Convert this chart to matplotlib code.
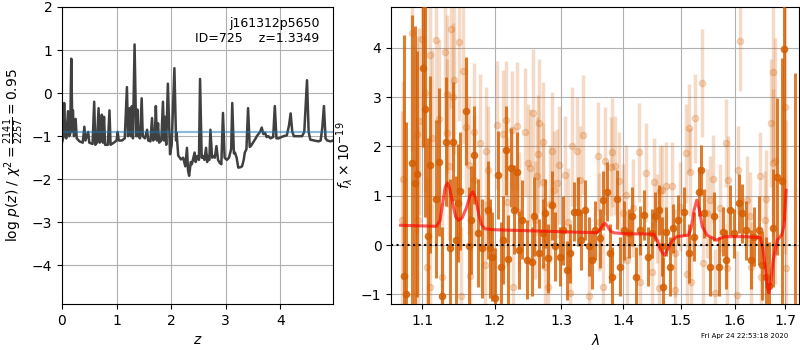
import matplotlib
matplotlib.use('Agg')
import matplotlib.pyplot as plt
from matplotlib.ticker import NullLocator

# p(z) curve (left panel)
z_grid = [0.00, 0.02, 0.04, 0.06, 0.08, 0.11, 0.13, 0.15, 0.17, 0.19,
          0.20, 0.22, 0.25, 0.27, 0.32, 0.38, 0.41, 0.43, 0.48, 0.50,
          0.56, 0.59, 0.61, 0.64, 0.67, 0.69, 0.71, 0.73, 0.75, 0.77,
          0.79, 0.84, 0.87, 0.89, 0.95, 1.00, 1.02, 1.04, 1.10, 1.15,
          1.19, 1.21, 1.24, 1.26, 1.28, 1.30, 1.33, 1.36, 1.38, 1.40,
          1.43, 1.46, 1.48, 1.52, 1.56, 1.58, 1.62, 1.65, 1.67, 1.70,
          1.72, 1.74, 1.76, 1.78, 1.82, 1.85, 1.87, 1.89, 1.91, 1.94,
          1.97, 1.98, 2.01, 2.06, 2.09, 2.10, 2.13, 2.18, 2.22, 2.26,
          2.29, 2.31, 2.33, 2.36, 2.38, 2.43, 2.45, 2.48, 2.51, 2.53,
          2.56, 2.58, 2.61, 2.64, 2.66, 2.67, 2.70, 2.72, 2.75, 2.77,
          2.80, 2.83, 2.86, 2.89, 2.92, 2.95, 2.98, 3.02, 3.06, 3.10,
          3.12, 3.15, 3.17, 3.20, 3.23, 3.27, 3.30, 3.33, 3.35, 3.38,
          3.41, 3.44, 3.46, 3.50, 3.55, 3.57, 3.60, 3.63, 3.66, 3.69,
          3.72, 3.75, 3.78, 3.82, 3.87, 3.90, 3.93, 3.97, 4.02, 4.06,
          4.12, 4.16, 4.19, 4.22, 4.25, 4.32, 4.40, 4.44, 4.49, 4.52,
          4.55, 4.62, 4.70, 4.74, 4.77, 4.80, 4.83, 4.86, 4.92, 4.97]
log_pz = [-1.15, -1.05, -0.23, -1.00, -1.05, -0.42, -1.00, -0.95, 0.80, -0.90,
          -0.40, -1.00, -0.60, -1.05, -1.12, -1.15, -0.78, -1.10, -0.90, -1.15,
          -1.18, -0.20, -1.20, -1.15, -0.35, -1.15, -1.10, -0.50, -1.15, -0.55,
          -1.20, -1.20, -0.40, -1.20, -1.15, -1.10, -0.90, -1.10, -1.10, -1.05,
          0.14, -1.00, -0.35, -1.00, -0.30, -1.05, 1.13, -1.00, -0.38, -1.00,
          -1.05, -0.12, -1.00, -1.05, -0.85, -1.10, -1.12, -0.58, -1.10, -1.05,
          -0.30, -1.10, -0.70, -1.15, -1.10, -0.20, -1.10, -0.55, -1.20, 0.22,
          -1.00, -1.42, -1.20, 0.58, -1.10, -0.92, -1.45, -1.54, -1.50, -1.70,
          -1.27, -1.80, -1.92, -1.60, -1.65, -1.38, -1.60, -1.46, -1.55, 0.33,
          -1.50, -1.46, -1.55, -1.27, -1.60, -1.46, -1.55, -0.85, -1.50, -1.46,
          -1.50, -1.23, -1.55, -1.62, -1.65, -0.46, -1.50, -1.55, -1.50, -1.30,
          -0.23, -1.40, -1.38, -1.50, -1.73, -1.72, -1.70, -1.55, -1.38, -1.30,
          -0.35, -1.25, -1.23, -1.15, -1.05, -1.00, -0.95, -0.90, -0.80, -0.95,
          -0.92, -1.02, -1.00, -1.05, -1.02, -0.30, -1.05, -1.05, -1.02, -1.00,
          -0.98, -0.75, -0.47, -0.90, -1.00, -1.00, -1.00, -0.90, 0.30, -0.90,
          -1.08, -1.10, -1.12, -1.10, -0.80, -0.30, -1.05, -1.10, -1.12, -1.10]
pz_level = -0.9

# spectrum, first set (dark points)
dark_lam = [1.0765, 1.0790, 1.0873, 1.0908, 1.0935, 1.1010, 1.1036, 1.1074, 1.111, 1.119,
            1.122, 1.126, 1.132, 1.137, 1.141, 1.145, 1.148, 1.151, 1.160, 1.163,
            1.166, 1.171, 1.176, 1.182, 1.190, 1.193, 1.196, 1.201, 1.205, 1.209,
            1.212, 1.216, 1.219, 1.224, 1.228, 1.232, 1.236, 1.240, 1.247, 1.255,
            1.258, 1.266, 1.271, 1.275, 1.279, 1.286, 1.290, 1.298, 1.303, 1.309,
            1.314, 1.320, 1.326, 1.331, 1.337, 1.343, 1.348, 1.354, 1.361, 1.366,
            1.373, 1.378, 1.382, 1.390, 1.395, 1.402, 1.409, 1.415, 1.422, 1.429,
            1.435, 1.442, 1.449, 1.455, 1.461, 1.466, 1.469, 1.474, 1.481, 1.487,
            1.496, 1.506, 1.515, 1.524, 1.533, 1.537, 1.543, 1.554, 1.562, 1.571,
            1.578, 1.584, 1.592, 1.599, 1.609, 1.615, 1.623, 1.631, 1.638, 1.648,
            1.654, 1.661, 1.668, 1.676, 1.683, 1.694, 1.697, 1.720]
dark_flux = [-0.63, -1.00, 1.66, 1.25, 1.44, 3.59, 2.76, 0.18, 1.63, 0.93,
             1.68, -1.04, 2.10, -0.07, 2.10, 0.10, 0.86, 1.10, 2.72, -0.03,
             0.51, 1.83, 0.24, -0.07, 0.71, -0.07, -0.24, -1.07, 1.42, -0.44,
             0.10, 1.92, -0.29, 1.57, 0.72, 1.49, -0.10, 0.51, -0.30, -0.34,
             0.58, -0.17, 0.24, 0.64, -0.27, 0.81, -0.03, -0.24, 0.30, -0.51,
             -0.17, 0.68, 0.68, 0.10, 0.71, -0.03, -0.30, 0.30, 0.14, 0.91,
             1.08, -0.17, -0.64, 0.93, -0.44, 0.30, 0.24, 0.58, -0.64, 0.30,
             0.61, -0.24, 0.24, 0.58, 0.71, -0.03, -0.85, 0.27, -0.44, 0.34,
             0.51, 0.68, -0.17, 0.17, 1.08, 1.52, 0.64, -0.44, 0.58, -0.44,
             0.27, -0.30, 0.71, 0.24, 0.85, 0.64, 0.30, -0.30, 0.17, 0.30,
             -0.41, -0.64, -0.83, 0.34, 1.39, 1.29, 3.98, -1.50]
dark_err = [4.9, 3.5, 3.0, 3.2, 2.5, 1.6, 2.2, 2.0, 1.8, 1.6,
            1.5, 1.4, 1.3, 1.4, 1.2, 1.3, 1.2, 1.2, 1.1, 1.2,
            1.1, 1.0, 1.1, 1.0, 1.0, 1.0, 0.9, 1.0, 0.9, 0.9,
            0.9, 0.9, 0.9, 0.8, 0.9, 0.8, 0.8, 0.8, 0.8, 0.7,
            0.8, 0.7, 0.7, 0.7, 0.7, 0.7, 0.7, 0.6, 0.7, 0.6,
            0.6, 0.6, 0.7, 0.6, 0.6, 0.6, 0.6, 0.6, 0.6, 0.6,
            0.6, 0.6, 0.6, 0.6, 0.6, 0.6, 0.5, 0.6, 0.6, 0.5,
            0.5, 0.6, 0.5, 0.5, 0.5, 0.6, 0.6, 0.5, 0.6, 0.5,
            0.5, 0.5, 0.6, 0.5, 0.5, 0.5, 0.5, 0.6, 0.5, 0.6,
            0.5, 0.6, 0.5, 0.5, 0.6, 0.6, 0.6, 0.6, 0.6, 0.7,
            0.7, 0.8, 0.9, 1.2, 1.6, 2.5, 3.5, 5.0]

# spectrum, second set (faint points)
light_lam = [1.074, 1.0756, 1.0865, 1.0938, 1.0951, 1.096, 1.1003, 1.1039, 1.107, 1.110,
             1.1106, 1.1129, 1.119, 1.122, 1.127, 1.131, 1.133, 1.134, 1.136, 1.139,
             1.141, 1.143, 1.150, 1.153, 1.156, 1.160, 1.164, 1.165, 1.170, 1.171,
             1.179, 1.186, 1.187, 1.191, 1.203, 1.212, 1.216, 1.218, 1.225, 1.227,
             1.233, 1.236, 1.245, 1.249, 1.252, 1.257, 1.260, 1.262, 1.264, 1.266,
             1.271, 1.272, 1.275, 1.280, 1.282, 1.285, 1.289, 1.293, 1.296, 1.305,
             1.311, 1.314, 1.317, 1.325, 1.330, 1.334, 1.343, 1.359, 1.360, 1.366,
             1.370, 1.379, 1.381, 1.386, 1.393, 1.400, 1.404, 1.407, 1.417, 1.426,
             1.429, 1.439, 1.449, 1.452, 1.458, 1.461, 1.464, 1.466, 1.474, 1.484,
             1.489, 1.490, 1.499, 1.510, 1.512, 1.515, 1.517, 1.519, 1.526, 1.538,
             1.540, 1.548, 1.553, 1.560, 1.563, 1.573, 1.583, 1.585, 1.588, 1.604,
             1.607, 1.611, 1.624, 1.629, 1.632, 1.649, 1.652, 1.659, 1.661, 1.672,
             1.675, 1.676, 1.680, 1.700, 1.702]
light_flux = [0.51, 1.33, 4.30, 2.25, 0.51, 2.51, 4.18, 3.08, -0.44, 3.86,
              -0.86, 2.17, 4.17, 2.56, -0.64, 3.92, 3.06, 2.27, 1.61, 4.38,
              3.01, 3.35, 4.12, -1.04, 3.54, 2.39, 1.63, -0.63, 2.29, 1.32,
              2.08, -0.41, 1.90, 1.52, 2.43, 2.25, 2.54, 0.88, 2.34, -0.85,
              2.41, 0.68, 2.30, 1.66, 1.56, 2.68, 0.51, 1.40, 1.84, 2.47,
              1.27, 2.10, -0.44, -0.86, 0.83, 1.90, 1.12, 1.25, 1.63, 1.42,
              0.47, -0.98, 2.00, 1.90, 1.32, 2.24, -1.04, 1.80, 0.47, -0.85,
              1.71, 1.59, 1.88, 1.61, 1.29, 0.64, 1.02, -0.30, 0.75, 1.88,
              -0.75, 1.47, -0.54, 1.27, 0.54, -0.88, 1.10, 1.12, 1.19, 1.19,
              -0.16, -0.91, 0.78, 1.86, -0.59, 2.37, 1.48, -0.75, 2.57, 3.29,
              -0.37, 0.64, 0.91, 1.34, -0.98, 0.75, 2.07, -0.47, 1.32, -1.02,
              1.52, 4.13, 0.91, 0.58, -0.44, 1.40, -0.64, 0.51, 0.93, 2.47,
              1.67, 3.51, 1.71, 2.81, -0.46]
light_err = [2.2, 2.0, 2.4, 2.0, 1.9, 1.9, 2.2, 2.0, 1.8, 1.9,
             1.7, 1.8, 1.7, 1.6, 1.5, 1.7, 1.6, 1.5, 1.5, 1.6,
             1.5, 1.5, 1.6, 1.4, 1.5, 1.4, 1.4, 1.4, 1.4, 1.3,
             1.4, 1.3, 1.3, 1.3, 1.3, 1.3, 1.2, 1.3, 1.2, 1.2,
             1.3, 1.2, 1.3, 1.2, 1.2, 1.3, 1.2, 1.2, 1.2, 1.3,
             1.2, 1.2, 1.2, 1.1, 1.2, 1.2, 1.2, 1.1, 1.2, 1.2,
             1.1, 1.1, 1.2, 1.1, 1.1, 1.2, 1.1, 1.1, 1.0, 1.1,
             1.1, 1.0, 1.1, 1.0, 1.0, 1.0, 1.0, 1.0, 1.0, 1.0,
             1.0, 1.0, 1.0, 0.9, 0.9, 1.0, 0.9, 0.9, 0.9, 0.9,
             0.9, 0.9, 0.9, 1.0, 0.9, 0.9, 0.9, 0.9, 0.9, 1.1,
             0.9, 0.9, 0.9, 0.9, 0.9, 0.9, 0.9, 0.9, 0.9, 0.9,
             0.9, 1.0, 0.9, 0.9, 0.9, 0.9, 0.9, 1.0, 1.0, 1.3,
             1.5, 1.8, 2.5, 3.0, 3.0]

# best-fit model
model_lam = [1.072, 1.119, 1.124, 1.128, 1.131, 1.134, 1.137, 1.141, 1.145, 1.149,
             1.154, 1.160, 1.165, 1.169, 1.173, 1.177, 1.181, 1.186, 1.20, 1.25,
             1.30, 1.356, 1.361, 1.366, 1.370, 1.374, 1.379, 1.384, 1.40, 1.452,
             1.458, 1.464, 1.471, 1.477, 1.484, 1.493, 1.514, 1.519, 1.524, 1.529,
             1.534, 1.539, 1.548, 1.557, 1.566, 1.574, 1.582, 1.62, 1.650, 1.655,
             1.660, 1.664, 1.667, 1.671, 1.676, 1.684, 1.693, 1.698, 1.702]
model_flux = [0.40, 0.38, 0.50, 0.90, 1.18, 1.26, 1.15, 0.85, 0.58, 0.50,
              0.55, 0.75, 1.00, 1.08, 0.95, 0.65, 0.42, 0.33, 0.31, 0.29,
              0.27, 0.25, 0.30, 0.40, 0.44, 0.38, 0.28, 0.25, 0.23, 0.22,
              0.10, -0.10, -0.21, -0.08, 0.08, 0.17, 0.20, 0.35, 0.70, 0.91,
              0.72, 0.38, 0.20, 0.15, 0.10, 0.14, 0.17, 0.17, 0.15, -0.05,
              -0.45, -0.85, -0.97, -0.75, -0.30, 0.10, 0.20, 0.40, 1.11]

lam_ticks = [1.1, 1.2, 1.3, 1.4, 1.5, 1.6, 1.7]
grism_color = (0.8353, 0.3686, 0.0)

fig = plt.figure(figsize=(8, 3.5), dpi=100)
ax1 = fig.add_axes([0.0775, 0.131, 0.339, 0.849])
ax2 = fig.add_axes([0.489, 0.131, 0.510, 0.849])

# left: p(z)
ax1.plot(z_grid, log_pz, color='0.25', lw=1.8)
ax1.axhline(pz_level, color='tab:blue', alpha=0.5, lw=1.6)
ax1.set_xlim(0, 4.97)
ax1.set_ylim(-4.9, 2)
ax1.set_xticks([0, 1, 2, 3, 4])
ax1.set_yticks([-4, -3, -2, -1, 0, 1, 2])
ax1.grid(True)
ax1.set_xlabel(r'$z$')
ax1.set_ylabel(r'$\log\,p(z)$ / $\chi^2=\frac{2141}{2257}=0.95$')
ax1.text(0.95, 0.965, 'j161312p5650\nID=725    z=1.3349', transform=ax1.transAxes,
         ha='right', va='top', fontsize=9)

# right: spectrum
ax2.errorbar(light_lam, light_flux, yerr=light_err, color=grism_color, marker='o',
             ms=4.5, linestyle='None', elinewidth=2.5, alpha=0.22, zorder=2)
ax2.errorbar(dark_lam, dark_flux, yerr=dark_err, color=grism_color, marker='o',
             ms=4.5, linestyle='None', elinewidth=2.2, alpha=0.8, zorder=3)
ax2.plot(model_lam, model_flux, color='r', alpha=0.65, lw=2.2, zorder=4)
ax2.axhline(0, color='k', linestyle=':', lw=1.5, zorder=5)
ax2.set_xscale('log')
ax2.set_xlim(1.06, 1.729)
ax2.set_ylim(-1.2, 4.83)
ax2.set_xticks(lam_ticks)
ax2.set_xticklabels([f'{t:.1f}' for t in lam_ticks])
ax2.xaxis.set_minor_locator(NullLocator())
ax2.set_yticks([-1, 0, 1, 2, 3, 4])
ax2.grid(True)
ax2.set_xlabel(r'$\lambda$')
ax2.set_ylabel(r'$f_\lambda\times10^{-19}$')

fig.text(0.985, 0.04, 'Fri Apr 24 22:53:18 2020', ha='right', va='center', fontsize=5)

fig.savefig('out.png', dpi=100)
